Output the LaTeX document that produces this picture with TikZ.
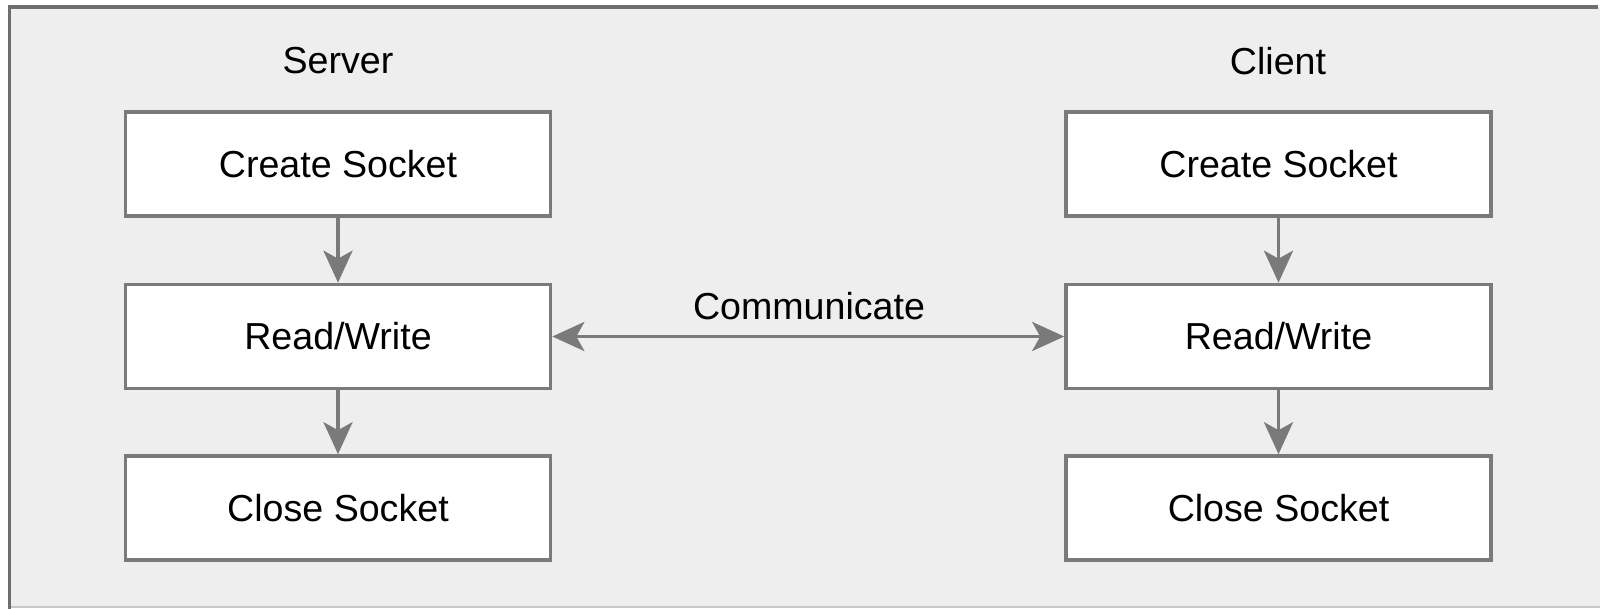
\documentclass[tikz,border=0pt]{standalone}
\usepackage{fontspec}
\setmainfont{Liberation Sans}
\usetikzlibrary{arrows.meta}
\definecolor{panel}{HTML}{EEEEEE}
\definecolor{edge}{HTML}{7A7A7A}
\definecolor{frameline}{HTML}{6E6E6E}
\definecolor{frameedge}{HTML}{C8C8C8}
\begin{document}
\begin{tikzpicture}[x=0.5pt,y=-0.5pt,
  label/.style={font=\fontsize{18.8}{22}\selectfont, text=black, inner sep=0pt},
  stepbox/.style={label, draw=edge, line width=1.8pt, fill=white,
    minimum width=212.5pt, minimum height=52pt},
  tip/.style={Stealth[length=16pt, width=14.5pt, inset=4pt]},
  flow/.style={draw=edge, line width=1.8pt, -{Stealth[length=16pt, width=14.5pt, inset=4pt]}},
  link/.style={draw=edge, line width=1.8pt,
    {Stealth[length=16pt, width=14.5pt, inset=4pt]}-{Stealth[length=16pt, width=14.5pt, inset=4pt]}}]
  \useasboundingbox (0,0) rectangle (1600,609);
  % background panel and its frame
  \fill[panel] (9.5,7) rectangle (1600,607);
  \draw[frameedge, line width=1pt] (9.5,606.5) -- (1600,606.5);
  \draw[frameline, line width=1.8pt] (9.5,609) -- (9.5,7) -- (1598,7);

  % column titles
  \node[label] (server) at (338,61) {Server};
  \node[label] (client) at (1278,61) {Client};

  % server steps
  \node[stepbox] (s1) at (338,164) {Create Socket};
  \node[stepbox] (s2) at (338,336.5) {Read/Write};
  \node[stepbox] (s3) at (338,508) {Close Socket};

  % client steps
  \node[stepbox] (c1) at (1278.5,164) {Create Socket};
  \node[stepbox] (c2) at (1278.5,336.5) {Read/Write};
  \node[stepbox] (c3) at (1278.5,508) {Close Socket};

  \draw[flow] (s1) -- (s2);
  \draw[flow] (s2) -- (s3);
  \draw[flow] (c1) -- (c2);
  \draw[flow] (c2) -- (c3);

  \draw[link] (s2.east) -- (c2.west);
  \node[label] (comm) at (809,306) {Communicate};
\end{tikzpicture}
\end{document}
